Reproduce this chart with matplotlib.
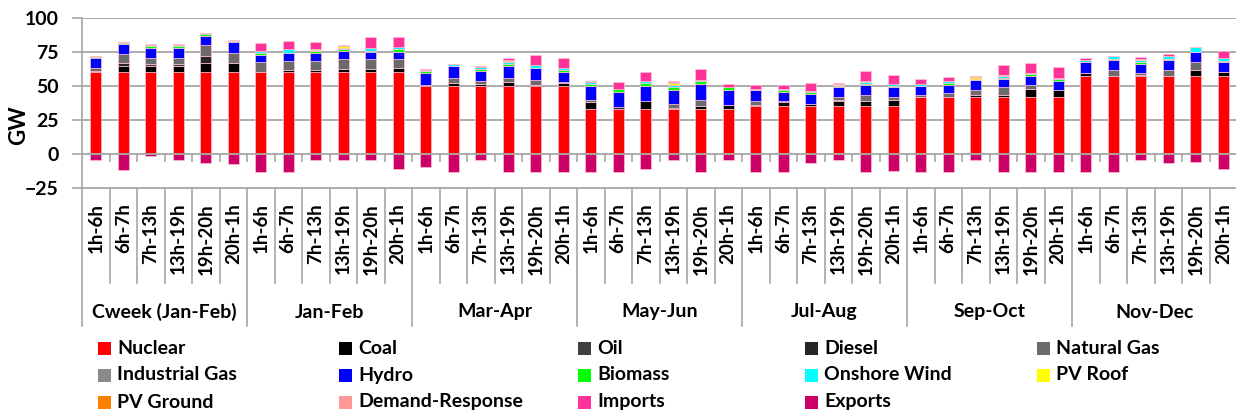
import matplotlib
matplotlib.use("Agg")
import matplotlib.pyplot as plt
from matplotlib.patches import Rectangle
from matplotlib.lines import Line2D
from matplotlib.transforms import blended_transform_factory
import numpy as np

plt.rcParams['font.family'] = ['Lato', 'DejaVu Sans']
plt.rcParams['font.weight'] = 'bold'

periods = ["Cweek (Jan-Feb)", "Jan-Feb", "Mar-Apr", "May-Jun", "Jul-Aug", "Sep-Oct", "Nov-Dec"]
slices = ["1h-6h", "6h-7h", "7h-13h", "13h-19h", "19h-20h", "20h-1h"]

# GW per time slice, 6 slices per period
nuclear = [60]*6 + [60]*6 + [50]*6 + [33]*6 + [35]*6 + [42]*6 + [57]*6
coal = [0, 4.7, 4.7, 4.7, 6.6, 6.6,
        0, 1.5, 1.5, 2.5, 2.5, 3.4,
        0.5, 2, 1.5, 3, 0.7, 2,
        4.9, 0, 5.9, 0, 2.5, 2.7,
        0, 3, 1.7, 3.7, 3.7, 4.4,
        0, 0, 1.7, 1.7, 5.9, 4.9,
        2.5, 0.7, 1.2, 0.7, 4.9, 3]
oil = [1, 0, 1.2, 1.2, 0, 0,
       0, 0, 0, 0, 0, 0,
       0, 0, 0, 0, 0, 0,
       0, 0, 0, 0, 0, 0,
       0, 0, 0, 0, 0, 0,
       0, 0, 0, 0, 0, 0,
       0, 0, 0, 0, 0, 0]
diesel = [0, 2.5, 0, 0, 5.4, 0,
          0, 0, 0, 0, 0, 0,
          0, 0, 0, 0, 0, 0,
          0, 1.5, 0, 1, 0, 0,
          1.2, 0.7, 0, 1, 0, 0,
          0, 0, 0, 0, 0, 0,
          0, 0, 0, 0, 0, 0]
natural_gas = [2, 6.4, 4.9, 4.9, 7.9, 7.4,
               7.4, 6.9, 6.9, 7.4, 7.4, 6.1,
               0, 3.9, 2.2, 3, 3.7, 1.2,
               1.5, 0, 0, 2.7, 4.4, 0,
               3, 0, 0, 2.2, 4.7, 2.5,
               1.7, 2.5, 3.7, 5.4, 2.5, 0,
               0, 3.7, 1.2, 3.7, 5.7, 0]
industrial_gas = [0]*42
hydro = [7.4, 7.1, 7.4, 7.4, 7.1, 8.1,
         5.4, 6.1, 6.1, 6.1, 5.4, 5.7,
         8.9, 8.9, 7.6, 8.9, 8.9, 7.4,
         10.3, 11.3, 11.3, 10.6, 11.3, 11.6,
         7.6, 7.1, 7.4, 7.1, 7.4, 7.1,
         6.1, 6.4, 6.9, 5.7, 6.9, 7.1,
         7.9, 7.4, 6.9, 7.4, 7.6, 7.4]
biomass = [0.7, 1, 1.2, 1.2, 1, 1.2,
           1.2, 0, 1, 1, 0.7, 1.7,
           1.5, 0, 1.2, 1.5, 0, 1.2,
           2, 2.2, 2.2, 2, 2.5, 2,
           0, 1, 1.2, 1.2, 1, 1,
           0, 1.2, 0, 1.2, 1.2, 1,
           0, 1, 1, 1, 0, 1]
onshore_wind = [1.2, 0.8, 0.5, 0.5, 0.8, 0.5,
                1.5, 2.7, 1, 1.2, 2.2, 2,
                1, 1.7, 1.2, 1, 2.2, 1.5,
                1.5, 0, 1.2, 1.5, 1, 0,
                1, 1, 1.2, 0.7, 1.5, 1.7,
                2, 1.5, 1.2, 1.2, 1.2, 1.2,
                2, 2.5, 1.5, 2.5, 3.2, 2.2]
pv_roof = [0, 0, 0.5, 0.5, 0, 0,
           0, 0, 0.7, 1, 0, 0,
           0, 0, 0, 1.2, 0, 0,
           0, 0, 0, 1.5, 0, 0,
           0, 0, 0, 0.7, 0.5, 0,
           0, 0, 1, 1, 0, 0,
           0, 0, 1, 0, 0, 0]
pv_ground = [0, 0, 0.5, 0.5, 0, 0,
             0, 0, 0, 0.7, 0, 0,
             0, 0, 0, 0.7, 0, 0,
             0, 0, 0, 1, 0, 0,
             0, 0, 0, 0, 0, 0,
             0, 0, 0.7, 0, 0, 0,
             0, 0, 0, 0, 0, 0]
demand_response = [0]*42
imports = [0, 0, 0, 0, 0, 0,
           5.9, 5.9, 5.2, 0.5, 8.1, 7.4,
           0.7, 0, 1, 1.5, 7.4, 7.6,
           0.7, 5.2, 6.6, 0.7, 7.9, 2.2,
           3, 3, 5.9, 0.7, 6.9, 6.1,
           3, 3, 0, 6.9, 6.9, 8.1,
           1, 0, 1.2, 1.5, 0, 5.4]
exports = [-4.5, -11.8, -1.2, -4.4, -6.4, -7.6,
           -13.3, -13.5, -4.4, -4.4, -4.4, -10.8,
           -9.8, -13.5, -4.4, -13.5, -13.5, -13.5,
           -13.5, -13.5, -11, -4.4, -13.5, -4.4,
           -13.5, -13.5, -6.4, -4.4, -13.5, -12.3,
           -13.5, -13.5, -4.4, -13.5, -13.5, -13.5,
           -13.5, -13.5, -4.4, -6.9, -6.1, -11]

stack = [
    ("Nuclear", nuclear, "#ff0000"),
    ("Coal", coal, "#000000"),
    ("Oil", oil, "#404040"),
    ("Diesel", diesel, "#262626"),
    ("Natural Gas", natural_gas, "#6b6b6b"),
    ("Industrial Gas", industrial_gas, "#8a8a8a"),
    ("Hydro", hydro, "#0000ff"),
    ("Biomass", biomass, "#00ff00"),
    ("Onshore Wind", onshore_wind, "#00ffff"),
    ("PV Roof", pv_roof, "#ffff00"),
    ("PV Ground", pv_ground, "#ff8000"),
    ("Demand-Response", demand_response, "#ff9999"),
    ("Imports", imports, "#ff3399"),
]
export_color = "#cc0066"

W, H = 1236, 412
fig = plt.figure(figsize=(W / 100, H / 100), dpi=100)
ax = fig.add_axes([82 / W, 1 - 188 / H, (1237 - 82) / W, 170 / H])

n = len(nuclear)
x = np.arange(n)
bw = 0.4
edge = "#ffc0d0"
bottom = np.zeros(n)
for name, vals, col in stack:
    v = np.array(vals, dtype=float)
    ax.bar(x, v, bw, bottom=bottom, color=col, edgecolor=edge, linewidth=0.5, zorder=3)
    bottom += v
ax.bar(x, exports, bw, color=export_color, edgecolor=edge, linewidth=0.5, zorder=3)

ax.set_xlim(-0.5, n - 0.5)
ax.set_ylim(-25, 100)
ax.set_yticks([-25, 0, 25, 50, 75, 100])
grid_c = "#a6a6a6"
for yv in [25, 50, 75, 100]:
    ax.axhline(yv, color=grid_c, lw=1.3, zorder=1)
ax.axhline(0, color=grid_c, lw=1.3, zorder=4)
ax.tick_params(axis='y', length=7, width=1.2, color=grid_c, pad=10, labelsize=14)
for lab in ax.get_yticklabels():
    lab.set_fontweight('bold')
ax.set_xticks([])
for s in ["top", "right"]:
    ax.spines[s].set_visible(False)
ax.spines["left"].set_color(grid_c)
ax.spines["left"].set_linewidth(1.2)
ax.spines["bottom"].set_color(grid_c)
ax.spines["bottom"].set_linewidth(1.3)

# small tick marks on the zero line between bars
ax.vlines(np.arange(n + 1) - 0.5, -6, 0, colors=grid_c, lw=1.2, zorder=2)

fig.text(19 / W, 1 - 125 / H, "GW", rotation=90, ha="center", va="center",
         fontsize=16, fontweight="bold")

# category axis below the plot
tr = blended_transform_factory(ax.transData, fig.transFigure)
y_axis_bot = 1 - 188 / H
y_inner = 1 - 283 / H
y_outer = 1 - 326 / H
for k in range(n + 1):
    xb = k - 0.5
    y_end = y_outer if k % 6 == 0 else y_inner
    fig.add_artist(Line2D([xb, xb], [y_axis_bot, y_end], transform=tr,
                          color=grid_c, lw=1.2, clip_on=False))
for i in range(n):
    fig.text(i, 1 - 203 / H, slices[i % 6], transform=tr, rotation=90,
             ha="center", va="top", fontsize=13.5, fontweight="bold")
for g, p in enumerate(periods):
    fig.text(g * 6 + 2.5, 1 - 312 / H, p, transform=tr, ha="center", va="center",
             fontsize=14, fontweight="bold")

# legend laid out in rows of five
legend_items = [(name, col) for name, _, col in stack] + [("Exports", export_color)]
col_x = [98, 339, 578, 805, 1037]
row_y = [348, 375, 402]
sq = 13
for idx, (name, col) in enumerate(legend_items):
    r, c = divmod(idx, 5)
    x0 = col_x[c]
    yc = row_y[r]
    fig.add_artist(Rectangle((x0 / W, 1 - (yc + sq / 2) / H), sq / W, sq / H,
                             transform=fig.transFigure, facecolor=col, edgecolor="none"))
    fig.text((x0 + sq + 6) / W, 1 - yc / H, name, ha="left", va="center",
             fontsize=14, fontweight="bold")

fig.savefig("out.png", dpi=100)
